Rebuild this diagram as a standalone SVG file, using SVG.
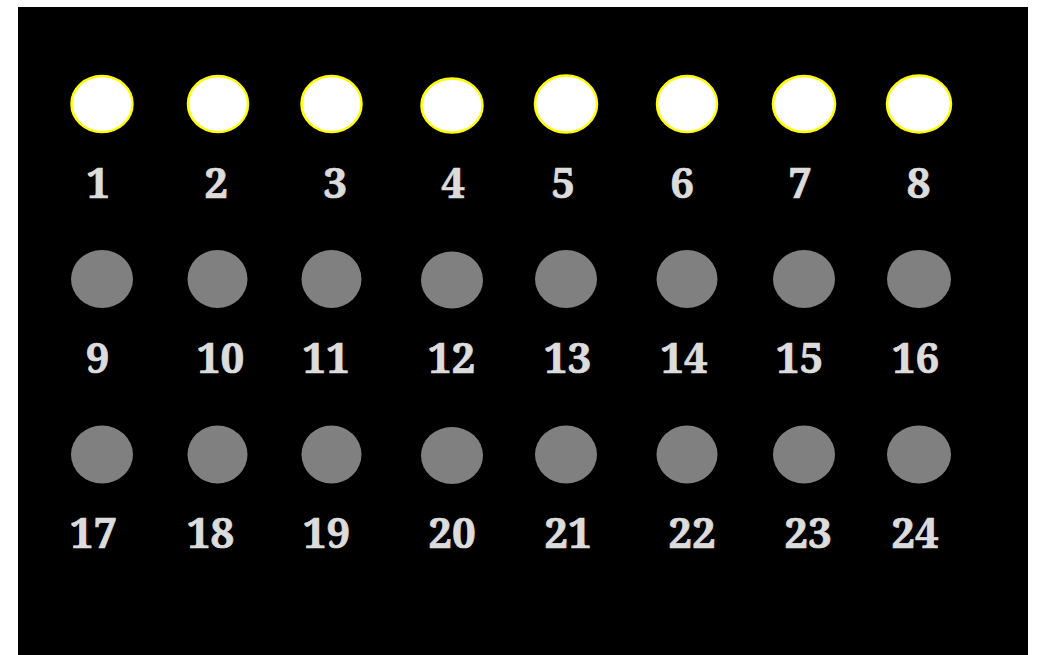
<svg xmlns="http://www.w3.org/2000/svg" width="1038" height="655" viewBox="0 0 1038 655">
<style>
.on{fill:#ffffff;stroke:#ffff00;stroke-width:2.5}
.off{fill:#808080}
.lbl{font-family:"Noto Serif","Liberation Serif",serif;font-weight:bold;font-size:42px;fill:#dcdcdc;stroke:#dcdcdc;stroke-width:0.7;text-anchor:middle}
</style>
<rect x="0" y="0" width="1038" height="655" fill="#ffffff"/>
<rect x="18" y="7" width="1010" height="648" fill="#000000"/>
<g id="nodes">
<g id="n1"><ellipse class="on" cx="102" cy="104" rx="30.5" ry="28"/><text class="lbl" x="98" y="198">1</text></g>
<g id="n2"><ellipse class="on" cx="218" cy="104" rx="30" ry="28"/><text class="lbl" x="216" y="198">2</text></g>
<g id="n3"><ellipse class="on" cx="331.5" cy="104" rx="30" ry="28"/><text class="lbl" x="335" y="198">3</text></g>
<g id="n4"><ellipse class="on" cx="452" cy="105.5" rx="30.5" ry="27"/><text class="lbl" x="453" y="198">4</text></g>
<g id="n5"><ellipse class="on" cx="566" cy="104" rx="31" ry="28.5"/><text class="lbl" x="563" y="198">5</text></g>
<g id="n6"><ellipse class="on" cx="687" cy="104" rx="30" ry="28"/><text class="lbl" x="682" y="198">6</text></g>
<g id="n7"><ellipse class="on" cx="804" cy="104" rx="31" ry="28"/><text class="lbl" x="800" y="198">7</text></g>
<g id="n8"><ellipse class="on" cx="919" cy="104" rx="32" ry="28.5"/><text class="lbl" x="918.5" y="198">8</text></g>

<g id="n9"><ellipse class="off" cx="102" cy="279" rx="31" ry="29"/><text class="lbl" x="97.5" y="373">9</text></g>
<g id="n10"><ellipse class="off" cx="217.5" cy="279" rx="30" ry="29"/><text class="lbl" x="220.5" y="373">10</text></g>
<g id="n11"><ellipse class="off" cx="331.5" cy="279" rx="30" ry="29"/><text class="lbl" x="326" y="373">11</text></g>
<g id="n12"><ellipse class="off" cx="452" cy="280" rx="31" ry="28.5"/><text class="lbl" x="451.5" y="373">12</text></g>
<g id="n13"><ellipse class="off" cx="566" cy="279" rx="31" ry="29"/><text class="lbl" x="567.5" y="373">13</text></g>
<g id="n14"><ellipse class="off" cx="687" cy="279" rx="30.5" ry="29"/><text class="lbl" x="684" y="373">14</text></g>
<g id="n15"><ellipse class="off" cx="804" cy="279" rx="31" ry="29"/><text class="lbl" x="799.5" y="373">15</text></g>
<g id="n16"><ellipse class="off" cx="919" cy="279" rx="32" ry="29"/><text class="lbl" x="915.5" y="373">16</text></g>

<g id="n17"><ellipse class="off" cx="102" cy="454.5" rx="31" ry="29"/><text class="lbl" x="93.5" y="548">17</text></g>
<g id="n18"><ellipse class="off" cx="217.5" cy="454.5" rx="30" ry="29"/><text class="lbl" x="210.5" y="548">18</text></g>
<g id="n19"><ellipse class="off" cx="331.5" cy="454.5" rx="30" ry="29"/><text class="lbl" x="326.5" y="548">19</text></g>
<g id="n20"><ellipse class="off" cx="452" cy="455.5" rx="31" ry="28.5"/><text class="lbl" x="452" y="548">20</text></g>
<g id="n21"><ellipse class="off" cx="566" cy="454.5" rx="31" ry="29"/><text class="lbl" x="568" y="548">21</text></g>
<g id="n22"><ellipse class="off" cx="687" cy="454.5" rx="30.5" ry="29"/><text class="lbl" x="692" y="548">22</text></g>
<g id="n23"><ellipse class="off" cx="804" cy="454.5" rx="31" ry="29"/><text class="lbl" x="808" y="548">23</text></g>
<g id="n24"><ellipse class="off" cx="919" cy="454.5" rx="32" ry="29"/><text class="lbl" x="915" y="548">24</text></g>
</g>
<g id="connectors"></g>
</svg>
